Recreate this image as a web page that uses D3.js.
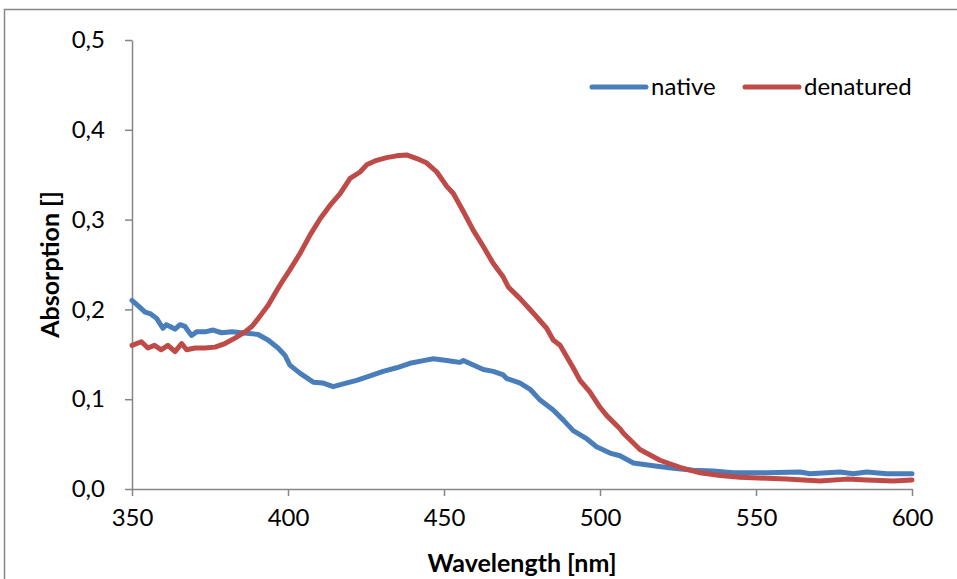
<!DOCTYPE html>
<html>
<head>
<meta charset="utf-8">
<script src="https://cdn.jsdelivr.net/npm/d3@7"></script>
<style>
  body { margin: 0; background: #fff; }
  svg { display: block; font-family: Lato, "Noto Sans", sans-serif; }
</style>
</head>
<body>
<svg id="chart" width="957" height="579"></svg>
<script>
// wavelength in nm / absorption
const nativeWl = [350, 352, 354.2, 356, 357.9, 359.9, 361, 362.2, 363.8, 365.4, 367, 368, 369.1, 370.7, 373.4, 376, 378.7, 382, 385.2, 388.4, 390.4, 393.6, 396.8, 399, 400.6, 403.8, 408.1, 411.3, 414.5, 417.7, 422, 426.3, 430.5, 434.8, 439.1, 443.4, 446.6, 450.9, 453, 455.1, 456.2, 459.4, 462.6, 465.8, 469, 470.1, 474.4, 477.6, 480.8, 485, 488.2, 491.4, 495.7, 498.9, 503.2, 506.4, 510.7, 517.1, 523.5, 529.9, 536.3, 542.7, 553.4, 564.1, 567.3, 576.9, 581.2, 585.5, 591.9, 600];
const nativeAbs = [0.210, 0.204, 0.197, 0.195, 0.190, 0.179, 0.183, 0.181, 0.178, 0.183, 0.181, 0.176, 0.171, 0.175, 0.175, 0.177, 0.174, 0.175, 0.174, 0.173, 0.172, 0.166, 0.157, 0.149, 0.138, 0.129, 0.119, 0.118, 0.114, 0.117, 0.121, 0.126, 0.131, 0.135, 0.140, 0.143, 0.145, 0.143, 0.142, 0.141, 0.143, 0.138, 0.133, 0.131, 0.127, 0.123, 0.118, 0.111, 0.099, 0.088, 0.077, 0.065, 0.056, 0.047, 0.040, 0.037, 0.029, 0.026, 0.023, 0.021, 0.020, 0.018, 0.018, 0.019, 0.017, 0.019, 0.017, 0.019, 0.017, 0.017];

const denatWl = [350, 353, 355.1, 357.2, 359.4, 361.5, 363.8, 365.9, 367.5, 370.2, 373.4, 376.6, 379.8, 383, 386.2, 388.4, 390.5, 393.7, 396.9, 398.5, 400.6, 403.8, 407.1, 410.3, 413.5, 416.7, 419.9, 423.1, 425.2, 428.4, 431.6, 434.8, 438, 441.3, 444.5, 447.7, 450.9, 453, 456.2, 459.4, 462.6, 465.8, 469, 470.6, 474.4, 478.6, 482.9, 485, 487.2, 491.4, 493.6, 496.8, 500, 502.1, 506.4, 507.5, 512.8, 519.2, 525.6, 532.1, 538.5, 544.9, 553.4, 559.8, 570.5, 579.1, 585.5, 594, 600];
const denatAbs = [0.160, 0.164, 0.157, 0.160, 0.155, 0.160, 0.153, 0.162, 0.155, 0.157, 0.157, 0.158, 0.162, 0.168, 0.175, 0.181, 0.190, 0.205, 0.224, 0.233, 0.244, 0.262, 0.283, 0.301, 0.316, 0.329, 0.346, 0.353, 0.361, 0.366, 0.369, 0.371, 0.372, 0.368, 0.363, 0.353, 0.337, 0.329, 0.309, 0.288, 0.270, 0.251, 0.236, 0.225, 0.212, 0.196, 0.179, 0.166, 0.160, 0.135, 0.121, 0.108, 0.091, 0.082, 0.067, 0.062, 0.044, 0.032, 0.024, 0.018, 0.015, 0.013, 0.012, 0.011, 0.009, 0.011, 0.010, 0.009, 0.010];

const xTicks = [350, 400, 450, 500, 550, 600];
const yTicks = [0, 0.1, 0.2, 0.3, 0.4, 0.5];

const seriesNames = ["native", "denatured"];
const seriesColors = ["#4A7EBB", "#BE4B48"];

const svg = d3.select("#chart");
const axisColor = "#868686";

// outer chart frame (runs past the window on the right and bottom)
svg.append("rect")
    .attr("x", 4.5).attr("y", 9.5)
    .attr("width", 1000).attr("height", 1000)
    .attr("fill", "none")
    .attr("stroke", axisColor)
    .attr("stroke-width", 1.5);

const x = d3.scaleLinear().domain([350, 600]).range([132, 912]);
const y = d3.scaleLinear().domain([0, 0.5]).range([489, 40]);

const fmt = d => d3.format(".1f")(d).replace(".", ",");

const xAxis = svg.append("g")
    .attr("transform", "translate(0,489)")
    .call(d3.axisBottom(x).tickValues(xTicks).tickSize(7).tickSizeOuter(0).tickPadding(13));

const yAxis = svg.append("g")
    .attr("transform", "translate(132,0)")
    .call(d3.axisLeft(y).tickValues(yTicks).tickFormat(fmt).tickSize(7).tickSizeOuter(0).tickPadding(20));

[xAxis, yAxis].forEach(g => {
    g.select(".domain").attr("stroke", axisColor).attr("stroke-width", 1.5);
    g.selectAll(".tick line").attr("stroke", axisColor).attr("stroke-width", 1.5);
    g.selectAll(".tick text")
        .attr("fill", "#000")
        .attr("font-size", "24px")
        .attr("font-family", "Lato, 'Noto Sans', sans-serif");
});

const line = d3.line()
    .x(d => x(d[0]))
    .y(d => y(d[1]));

const series = [
    d3.zip(nativeWl, nativeAbs),
    d3.zip(denatWl, denatAbs)
];

series.forEach((pts, i) => {
    svg.append("path")
        .datum(pts)
        .attr("fill", "none")
        .attr("stroke", seriesColors[i])
        .attr("stroke-width", 5)
        .attr("stroke-linejoin", "round")
        .attr("stroke-linecap", "round")
        .attr("d", line);
});

// axis titles
svg.append("text")
    .attr("x", 522)
    .attr("y", 572)
    .attr("text-anchor", "middle")
    .attr("font-size", "25px")
    .attr("font-weight", "bold")
    .text("Wavelength [nm]");

svg.append("text")
    .attr("transform", "translate(59,264.5) rotate(-90)")
    .attr("text-anchor", "middle")
    .attr("font-size", "25px")
    .attr("font-weight", "bold")
    .text("Absorption []");

// legend
const legendX = [592, 745];
seriesNames.forEach((name, i) => {
    const lg = svg.append("g").attr("transform", `translate(${legendX[i]},87)`);
    lg.append("line")
        .attr("x1", 0).attr("x2", 54)
        .attr("stroke", seriesColors[i])
        .attr("stroke-width", 5)
        .attr("stroke-linecap", "round");
    lg.append("text")
        .attr("x", 59)
        .attr("y", 0)
        .attr("dy", "0.35em")
        .attr("font-size", "24px")
        .text(name);
});
</script>
</body>
</html>
